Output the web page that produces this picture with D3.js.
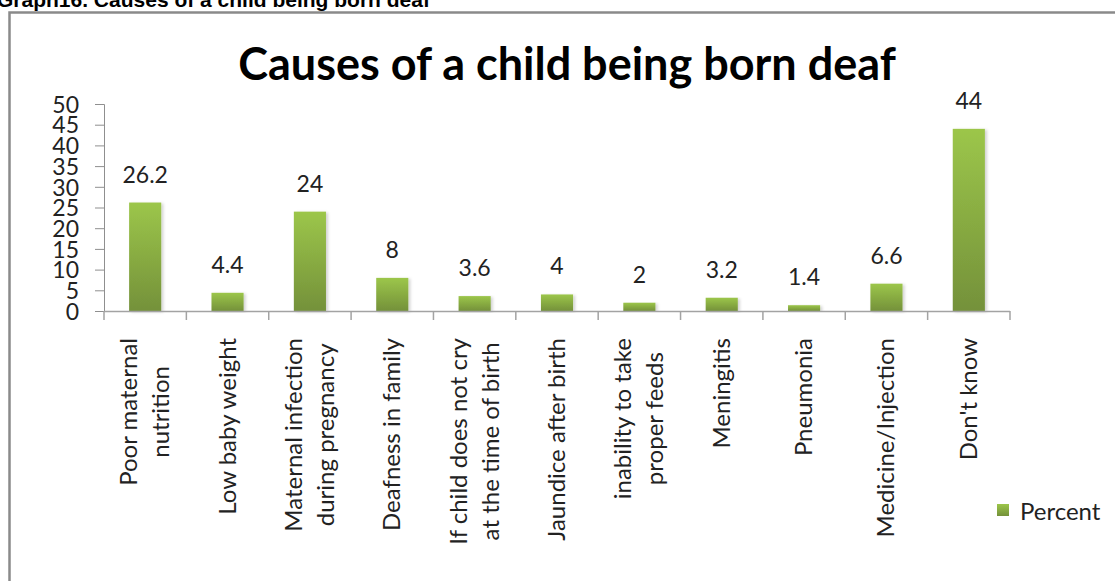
<!DOCTYPE html>
<html>
<head>
<meta charset="utf-8">
<script src="https://cdn.jsdelivr.net/npm/d3@7"></script>
<style>
  html, body { margin: 0; padding: 0; background: #fff; }
  svg { display: block; }
</style>
</head>
<body>
<svg id="chart" width="1115" height="581"></svg>
<script>
// Survey responses: perceived causes of a child being born deaf (percent)
const categories = [
  ["Poor maternal", "nutrition"],
  ["Low baby weight"],
  ["Maternal infection", "during pregnancy"],
  ["Deafness in family"],
  ["If child does not cry", "at the time of birth"],
  ["Jaundice after  birth"],
  ["inability to take", "proper feeds"],
  ["Meningitis"],
  ["Pneumonia"],
  ["Medicine/Injection"],
  ["Don't know"]
];
const percent = [26.2, 4.4, 24, 8, 3.6, 4, 2, 3.2, 1.4, 6.6, 44];
const yTicks = [0, 5, 10, 15, 20, 25, 30, 35, 40, 45, 50];
const seriesName = "Percent";
const chartTitle = "Causes of a child being born deaf";
const caption = "Graph16. Causes of a child being born deaf";

const svg = d3.select("#chart");
const font = "Lato, 'Open Sans', sans-serif";

const defs = svg.append("defs");
const grad = defs.append("linearGradient")
  .attr("id", "barFill").attr("x1", 0).attr("y1", 0).attr("x2", 0).attr("y2", 1);
grad.append("stop").attr("offset", "0%").attr("stop-color", "#9cc64a");
grad.append("stop").attr("offset", "100%").attr("stop-color", "#74913a");

const shadow = defs.append("filter").attr("id", "barShadow")
  .attr("x", "-20%").attr("y", "-5%").attr("width", "150%").attr("height", "115%");
shadow.append("feDropShadow").attr("dx", 2).attr("dy", 1).attr("stdDeviation", 1.5)
  .attr("flood-color", "#000").attr("flood-opacity", 0.18);

// Page caption above the chart frame
svg.append("text")
  .attr("x", -3).attr("y", 7)
  .attr("font-family", "'Liberation Sans', Arial, sans-serif")
  .attr("font-weight", "bold").attr("font-size", 21)
  .attr("fill", "#000")
  .text(caption);

// Chart frame
svg.append("rect")
  .attr("x", 9.5).attr("y", 12.5).attr("width", 1120).attr("height", 600)
  .attr("fill", "none").attr("stroke", "#8a8a8a").attr("stroke-width", 2.5);

// Chart title
svg.append("text")
  .attr("x", 567).attr("y", 80)
  .attr("text-anchor", "middle")
  .attr("font-family", font).attr("font-weight", "bold").attr("font-size", 45)
  .attr("fill", "#000")
  .text(chartTitle);

const x0 = 104, x1 = 1010, yTop = 104, yBase = 311;

const x = d3.scaleBand()
  .domain(d3.range(categories.length))
  .range([x0, x1])
  .paddingInner(0.61).paddingOuter(0.305);

const y = d3.scaleLinear().domain([0, 50]).range([yBase, yTop]);

// Y axis
const yAxis = svg.append("g")
  .attr("transform", `translate(${x0},0)`)
  .call(d3.axisLeft(y).tickValues(yTicks).tickSize(9).tickPadding(16).tickFormat(d3.format("d")));
yAxis.select(".domain").attr("stroke", "#8f8f8f");
yAxis.selectAll(".tick line").attr("stroke", "#8f8f8f");
yAxis.selectAll(".tick text")
  .attr("font-family", font).attr("font-size", 23).attr("fill", "#222")
  .attr("dy", "0.36em");

// Bars
svg.append("g").selectAll("rect")
  .data(percent)
  .join("rect")
  .attr("x", (d, i) => x(i))
  .attr("y", d => y(d))
  .attr("width", x.bandwidth())
  .attr("height", d => yBase - y(d))
  .attr("fill", "url(#barFill)")
  .attr("filter", "url(#barShadow)");

// X axis with ticks on category boundaries
const xAxisG = svg.append("g");
xAxisG.append("line")
  .attr("x1", x0).attr("x2", x1).attr("y1", yBase + 0.5).attr("y2", yBase + 0.5)
  .attr("stroke", "#a3a3a3").attr("stroke-width", 1.5);
const boundaries = d3.range(categories.length + 1).map(i => x0 + i * x.step());
xAxisG.selectAll("line.tick")
  .data(boundaries)
  .join("line")
  .attr("class", "tick")
  .attr("x1", d => d).attr("x2", d => d)
  .attr("y1", yBase).attr("y2", yBase + 9)
  .attr("stroke", "#a3a3a3").attr("stroke-width", 1.5);

// Value labels
svg.append("g").selectAll("text")
  .data(percent)
  .join("text")
  .attr("x", (d, i) => x(i) + x.bandwidth() / 2)
  .attr("y", d => y(d) - 20)
  .attr("text-anchor", "middle")
  .attr("font-family", font).attr("font-size", 23).attr("fill", "#222")
  .text(d => d);

// Rotated category labels
const lineGap = 32;
const catG = svg.append("g").selectAll("text")
  .data(categories)
  .join("text")
  .attr("font-family", font).attr("font-size", 24).attr("fill", "#222")
  .attr("text-anchor", "end")
  .attr("transform", (d, i) => {
    const cx = x(i) + x.bandwidth() / 2;
    const first = cx + 8 - (d.length - 1) * lineGap / 2;
    return `translate(${first},338) rotate(-90)`;
  });
catG.each(function(lines) {
  const t = d3.select(this);
  lines.forEach((ln, k) => {
    t.append("tspan")
      .attr("x", 0)
      .attr("y", k * lineGap)
      .attr("text-anchor", lines.length > 1 ? "middle" : "end")
      .text(ln);
  });
});
// Two-line labels are centred on their longest line's end point
catG.each(function(lines) {
  if (lines.length < 2) return;
  const t = d3.select(this);
  const widths = [];
  t.selectAll("tspan").each(function() { widths.push(this.getComputedTextLength()); });
  const half = d3.max(widths) / 2;
  t.selectAll("tspan").attr("x", -half);
});

// Legend
svg.append("rect")
  .attr("x", 997).attr("y", 504).attr("width", 12).attr("height", 12)
  .attr("fill", "url(#barFill)");
svg.append("text")
  .attr("x", 1020).attr("y", 511).attr("dy", "0.36em")
  .attr("font-family", font).attr("font-size", 24).attr("fill", "#222")
  .text(seriesName);
</script>
</body>
</html>
